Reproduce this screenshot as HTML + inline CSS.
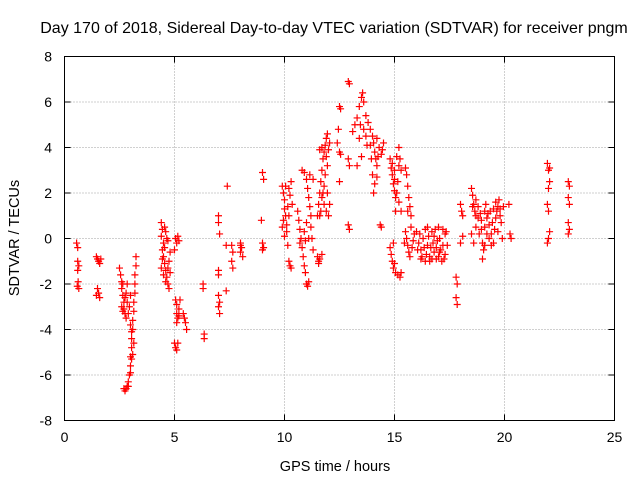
<!DOCTYPE html>
<html><head><meta charset="utf-8"><style>
body{margin:0;background:#fff}
svg{display:block;font-family:"Liberation Sans",sans-serif}
</style></head><body>
<svg id="chart" width="640" height="480">
<text x="334" y="33" font-size="16" text-anchor="middle">Day 170 of 2018, Sidereal Day-to-day VTEC variation (SDTVAR) for receiver pngm</text>
<text x="335" y="471" font-size="14.5" text-anchor="middle">GPS time / hours</text>
<text x="0" y="0" font-size="14.5" text-anchor="middle" transform="translate(19,238) rotate(-90)">SDTVAR / TECUs</text>
<g id="grid"></g>
<g id="ticks"></g>
<g id="marks"></g>
<rect x="64.5" y="56.5" width="550" height="364" fill="none" stroke="#000" stroke-width="1"/>
</svg>
<script>
const xTicks=[0,5,10,15,20,25];
const yTicks=[-8,-6,-4,-2,0,2,4,6,8];
const samples=[
[0.55,-0.2],[0.6,-0.4],[0.6,-1.0],[0.65,-1.2],[0.6,-1.4],[0.62,-1.9],[0.58,-2.1],[0.65,-2.2],
[1.45,-0.8],[1.5,-0.9],[1.55,-1.0],[1.6,-1.1],[1.65,-0.9],[1.5,-2.2],[1.55,-2.4],[1.6,-2.6],[1.45,-2.5],
[2.5,-1.3],[2.55,-1.6],[2.6,-1.9],[2.6,-2.2],[2.65,-2.5],[2.7,-2.8],[2.7,-3.1],[2.75,-3.3],[2.8,-3.5],[2.6,-3.0],[2.65,-3.2],[2.8,-2.4],[2.85,-2.0],[2.7,-6.6],[2.75,-6.7],[2.8,-6.6],[2.85,-6.5],[2.9,-6.3],[2.95,-6.0],[3.0,-5.6],[3.0,-5.2],[3.05,-4.8],[3.05,-4.4],[3.1,-4.0],[3.1,-3.6],[3.15,-3.2],[3.15,-2.8],[3.2,-2.4],[3.2,-2.0],[3.2,-1.6],[3.25,-1.2],[3.25,-0.8],[3.05,-5.3],[3.1,-5.1],[2.95,-3.0],[3.0,-2.5],
[4.4,0.7],[4.45,0.4],[4.4,0.1],[4.5,-0.2],[4.45,-0.5],[4.5,-0.8],[4.55,-1.1],[4.6,-1.4],[4.65,-1.7],[4.7,-2.0],[4.75,-2.2],[4.6,0.3],[4.7,-0.1],[4.8,-0.6],[4.4,-1.3],[4.5,-1.6],[4.65,0.0],[4.75,-1.0],
[5.05,0.0],[5.1,-0.2],[5.15,0.1],[5.2,-0.1],[5.0,-0.5],[5.05,-2.7],[5.1,-2.9],[5.1,-3.3],[5.15,-3.5],[5.2,-3.1],[5.25,-2.7],[5.0,-4.6],[5.05,-4.8],[5.1,-4.9],[5.15,-4.6],[5.45,-3.5],[5.5,-3.7],[5.55,-4.0],[5.4,-3.3],
[6.3,-2.0],[6.3,-2.2],[6.35,-4.2],[6.35,-4.4],
[7.0,1.0],[7.0,0.7],[7.05,0.2],[7.0,-1.4],[7.0,-1.6],[7.0,-2.5],[7.05,-2.8],[7.0,-3.0],[7.05,-3.3],[7.4,2.3],[7.35,-0.3],[7.35,-2.3],[7.6,-0.3],[7.65,-0.6],[7.6,-1.0],[7.65,-1.3],[8.0,-0.2],[8.05,-0.4],[8.0,-0.6],[8.1,-0.8],[8.0,-0.3],
[9.0,2.9],[9.05,2.6],[8.95,0.8],[9.0,-0.2],[9.05,-0.4],[9.0,-0.5],
[9.9,2.3],[9.95,2.0],[10.0,1.7],[10.0,1.3],[10.05,1.0],[10.1,0.6],[10.1,0.3],[9.95,0.8],[10.2,2.2],[10.25,1.9],[10.3,2.5],[10.2,1.0],[10.15,-0.3],[10.2,-1.0],[10.25,-1.2],[10.3,-1.3],[9.9,0.5],
[10.6,1.2],[10.65,0.8],[10.7,0.4],[10.75,0.0],[10.8,-0.4],[10.85,-0.8],[10.9,-1.2],[10.95,-1.5],[10.8,3.0],[10.9,2.9],[11.0,2.6],[11.05,2.2],[11.1,1.8],[11.15,1.4],[11.2,1.0],[11.0,-2.0],[11.05,-2.1],[11.1,-1.9],[11.2,0.5],[11.25,0.0],[11.3,-0.5],[10.7,-0.2],[11.3,2.6],
[11.5,-0.8],[11.55,-1.0],[11.6,-0.9],[11.7,-0.7],[11.5,1.0],[11.55,1.5],[11.6,2.0],[11.65,2.5],[11.7,3.0],[11.75,3.5],[11.8,3.8],[11.85,4.1],[11.9,4.4],[11.95,4.6],[12.0,3.9],[11.6,3.9],[11.7,1.8],[11.8,2.3],[11.9,1.2],[12.0,1.0],[11.85,2.8],[11.95,3.2],
[12.4,4.2],[12.5,5.8],[12.55,5.7],[12.5,3.8],[12.55,3.7],[12.5,2.5],[12.45,4.8],[12.9,6.9],[12.95,6.8],[12.9,3.5],[12.95,3.2],[12.9,0.6],[12.95,0.4],[13.1,4.7],[13.2,5.0],
[13.3,5.3],[13.4,5.8],[13.5,6.2],[13.55,6.4],[13.6,6.0],[13.7,5.4],[13.8,5.1],[13.4,4.4],[13.5,3.6],[13.3,3.2],[13.9,4.8],[14.0,4.5],[14.05,4.2],[14.1,3.8],[14.15,3.5],[14.2,3.2],[14.0,2.8],[14.1,2.4],[14.05,2.0],[14.3,4.0],[14.4,3.7],[14.45,3.9],[14.35,0.6],[14.4,0.5],[14.5,4.2],
[14.8,3.5],[14.85,3.1],[14.9,2.8],[14.95,2.4],[15.0,2.1],[15.05,1.8],[15.1,2.0],[15.2,1.6],[15.3,1.2],[15.0,3.0],[15.1,3.6],[15.2,4.0],[15.25,3.5],[15.3,3.0],[14.8,-0.4],[14.85,-0.7],[14.9,-1.0],[14.95,-1.3],[15.05,-1.5],[15.15,-1.6],[15.25,-1.7],[15.3,-1.5],
[15.5,3.1],[15.55,2.8],[15.6,2.3],[15.65,1.8],[15.7,1.4],[15.75,1.0],[15.5,0.3],[15.55,0.0],[15.6,-0.3],[15.65,-0.6],[15.7,-0.8],[15.8,-0.4],[15.9,0.2],[15.45,-0.2],
[16.0,0.3],[16.1,-0.2],[16.2,-0.5],[16.25,-0.8],[16.3,0.0],[16.4,0.4],[16.5,0.5],[16.5,-0.3],[16.6,-0.8],[16.6,-1.0],[16.7,0.3],[16.8,0.1],[16.9,-0.4],[16.9,-0.9],[17.0,0.5],[17.05,0.0],[17.1,-0.5],[17.15,-1.0],[17.2,0.4],[17.3,0.2],[17.3,-0.7],[17.4,-0.3],[16.2,-0.9],[16.4,-1.0],[16.8,-0.6],[17.0,-0.8],
[17.8,-1.7],[17.85,-2.0],[17.8,-2.6],[17.85,-2.9],[18.0,1.5],[18.05,1.2],[18.1,1.0],[18.0,-0.2],[18.1,0.1],
[18.5,2.2],[18.55,1.9],[18.6,1.5],[18.65,1.2],[18.7,1.0],[18.5,0.2],[18.6,-0.2],[18.7,0.5],[18.8,1.4],[18.9,1.1],[18.95,0.8],[19.0,-0.2],[19.05,-0.5],[19.0,-0.9],[19.1,1.2],[19.2,0.9],[19.3,0.6],[19.3,0.0],[19.4,-0.3],[19.5,1.3],[19.6,1.6],[19.7,1.4],[19.8,1.0],[19.7,0.3],[19.9,0.0],[19.5,-0.2],[19.6,0.9],[19.8,1.3],[19.2,0.2],
[20.2,1.5],[20.25,0.2],[20.3,0.0],
[21.95,3.3],[22.0,3.0],[22.05,2.5],[22.0,2.2],[21.95,1.5],[22.0,1.2],[22.05,0.3],[22.0,0.0],[21.95,-0.2],[22.05,3.1],
[22.9,2.5],[22.95,2.3],[22.9,1.8],[22.95,1.5],[22.9,0.7],[22.95,0.4],[22.9,0.2],
[2.65,-2.0],[2.75,-2.6],[2.9,-3.3],[2.85,-2.8],[3.0,-3.8],[3.05,-4.1],[3.15,-4.6],[2.9,-6.5],[3.0,-5.9],
[4.45,-0.9],[4.55,-0.4],[4.6,-1.9],[4.7,-1.3],[4.55,0.5],[4.8,-1.5],[5.1,-3.7],[5.2,-3.4],
[10.05,2.3],[10.15,1.4],[10.0,0.1],[10.35,1.5],[10.9,0.3],[10.95,-0.1],[11.0,0.7],[11.1,0.0],[11.15,2.8],
[11.6,1.0],[11.65,1.2],[11.75,2.0],[11.8,1.5],[11.9,3.6],[12.05,4.2],[11.7,4.0],[11.95,2.0],[12.05,1.5],[11.55,-1.1],
[13.45,5.0],[13.6,4.8],[13.7,4.5],[13.75,4.1],[13.9,4.1],[14.2,4.4],[14.25,3.6],[14.2,2.7],[13.95,3.5],
[14.9,3.3],[15.0,2.6],[15.15,2.5],[15.05,1.2],[14.95,-0.2],[15.0,-1.1],[15.2,3.2],
[15.6,1.2],[15.75,0.5],[15.85,-0.1],[16.05,-0.5],[16.15,0.2],[16.35,-0.4],[16.45,-0.7],[16.55,0.1],[16.65,-0.4],[16.75,-0.2],[16.85,0.4],[16.95,-0.1],[17.05,-0.6],[17.2,-0.3],[17.25,-0.9],[17.35,0.3],[16.7,-0.9],
[18.55,1.4],[18.7,1.7],[18.8,0.9],[18.85,0.2],[18.95,0.4],[19.1,0.5],[19.15,1.5],[19.25,1.1],[19.35,1.2],[19.45,0.7],[19.55,0.4],[19.65,1.2],[19.75,1.7],[19.85,0.7],[19.95,1.4],[19.1,-0.3],[19.4,0.2]
];
const NS="http://www.w3.org/2000/svg";
const L=64.5,R=614.5,T=56.5,B=420.5;
function sx(v){return L+(v-0)/25*(R-L);}
function sy(v){return B-(v+8)/16*(B-T);}
const grid=document.getElementById('grid'),ticks=document.getElementById('ticks'),marks=document.getElementById('marks');
function line(g,x1,y1,x2,y2,st,dash){const l=document.createElementNS(NS,'line');l.setAttribute('x1',x1);l.setAttribute('y1',y1);l.setAttribute('x2',x2);l.setAttribute('y2',y2);l.setAttribute('stroke',st);if(dash)l.setAttribute('stroke-dasharray',dash);g.appendChild(l);return l;}
function txt(x,y,s,anchor){const t=document.createElementNS(NS,'text');t.setAttribute('x',x);t.setAttribute('y',y);t.setAttribute('font-size','14');t.setAttribute('text-anchor',anchor);t.textContent=s;ticks.appendChild(t);return t;}
xTicks.forEach(v=>{const x=sx(v);
 if(v>0&&v<25){const g=line(grid,x,T,x,B,'#a0a0a0','1,2');
 
 }
 line(ticks,x,B,x,B-6,'#000');line(ticks,x,T,x,T+6,'#000');
 const t=txt(x,442,String(v),'middle');
 
 
});
yTicks.forEach(v=>{const y=sy(v);
 if(v>-8&&v<8){const g=line(grid,L,y,R,y,'#a0a0a0','1,2');
 
 }
 line(ticks,L,y,L+6,y,'#000');line(ticks,R,y,R-6,y,'#000');
 const t=txt(52,y+5,String(v),'end');
 
 
});
samples.forEach(p=>{const x=sx(p[0]),y=sy(p[1]);
 const pth=document.createElementNS(NS,'path');
 pth.setAttribute('d','M'+(x-3.5)+' '+y+'h7M'+x+' '+(y-3.5)+'v7');
 pth.setAttribute('stroke','#f00');pth.setAttribute('stroke-width','1.2');
 
 
 marks.appendChild(pth);
});
</script>
</body></html>
